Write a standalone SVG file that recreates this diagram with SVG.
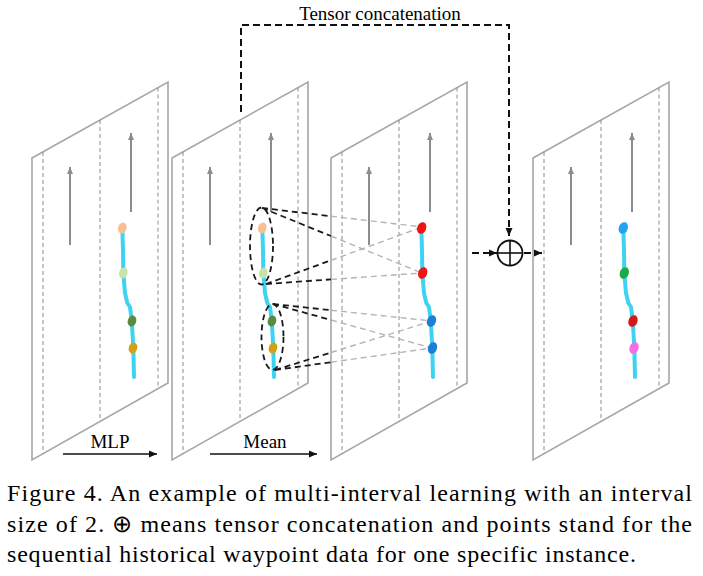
<svg xmlns="http://www.w3.org/2000/svg" xmlns:xlink="http://www.w3.org/1999/xlink" width="703" height="576" viewBox="0 0 703 576">
<style>
.frame{fill:#ffffff;stroke:#a6a6a6;stroke-width:1.6}
.lane{stroke:#8c8c8c;stroke-width:1;stroke-dasharray:4 3;fill:none}
.garrow{stroke:#8c8c8c;stroke-width:2;fill:none}
.traj{stroke:#3fd3f3;stroke-width:4;fill:none;stroke-linecap:round;stroke-linejoin:round}
.bd{stroke:#1a1a1a;stroke-width:1.8;stroke-dasharray:6 4;fill:none}
.gd{stroke:#b4b4b4;stroke-width:1.4;stroke-dasharray:6 4;fill:none}
.topd{stroke:#111;stroke-width:2;stroke-dasharray:7 4;fill:none}
.solid{stroke:#111;stroke-width:1.5;fill:none}
text{font-family:'Liberation Serif',Tinos,'Times New Roman',Times,serif}
.lbl{font-size:19px;fill:#000}
.cap{font-size:24px;fill:#000}
</style>
<defs>
<marker id="ga" markerUnits="userSpaceOnUse" markerWidth="8" markerHeight="8" refX="7" refY="4" orient="auto"><path d="M0,1 L7,4 L0,7 Z" fill="#8c8c8c"/></marker>
<marker id="ba" markerUnits="userSpaceOnUse" markerWidth="9" markerHeight="8" refX="8" refY="4" orient="auto"><path d="M0,0.5 L8,4 L0,7.5 Z" fill="#111"/></marker>
<g id="panelBase">
<polygon class="frame" points="32,158 168,82 168,383 32,460"/>
<line class="lane" x1="43" y1="152" x2="43" y2="454"/>
<line class="lane" x1="100" y1="120" x2="100" y2="421.5"/>
<line class="lane" x1="158" y1="87.6" x2="158" y2="388.7"/>
<line class="garrow" x1="70" y1="245" x2="70" y2="167" marker-end="url(#ga)"/>
<line class="garrow" x1="131" y1="212" x2="131" y2="133" marker-end="url(#ga)"/>
<path class="traj" d="M122.3,227 L123,250 L123.3,273 L125,293 L127.3,303 L130,307 L131.7,320 L133.3,347 L134,377"/>
</g>
</defs>

<g id="panel1">
<use xlink:href="#panelBase"/>
<ellipse cx="122.3" cy="228" rx="4.2" ry="5.5" transform="rotate(20 122.3 228)" fill="#f6c093"/>
<ellipse cx="123.3" cy="273" rx="4.2" ry="5.5" transform="rotate(20 123.3 273)" fill="#c3e6a8"/>
<ellipse cx="132" cy="321" rx="4.2" ry="5.5" transform="rotate(20 132 321)" fill="#5b8a42"/>
<ellipse cx="133" cy="348" rx="4.2" ry="5.5" transform="rotate(20 133 348)" fill="#d4a016"/>
</g>

<g id="panel2">
<use xlink:href="#panelBase" transform="translate(140,0)"/>
<ellipse cx="262.3" cy="228" rx="4.2" ry="5.5" transform="rotate(20 262.3 228)" fill="#f6c093"/>
<ellipse cx="263.3" cy="273" rx="4.2" ry="5.5" transform="rotate(20 263.3 273)" fill="#c3e6a8"/>
<ellipse cx="272" cy="321" rx="4.2" ry="5.5" transform="rotate(20 272 321)" fill="#5b8a42"/>
<ellipse cx="273" cy="348" rx="4.2" ry="5.5" transform="rotate(20 273 348)" fill="#d4a016"/>
<ellipse class="bd" cx="261.5" cy="246" rx="11.5" ry="38.5" stroke-dasharray="5 3" stroke-width="1.5"/>
<ellipse class="bd" cx="272.5" cy="337" rx="11" ry="33" stroke-dasharray="5 3" stroke-width="1.5"/>
</g>

<g id="panel3">
<use xlink:href="#panelBase" transform="translate(299,0)"/>
</g>

<g id="panel4">
<use xlink:href="#panelBase" transform="translate(501,0)"/>
</g>

<g id="connectors">
<path class="topd" d="M241,112 V25 H509 V236" marker-end="url(#ba)"/>
<path class="topd" d="M472,253 H497" stroke-dasharray="6 4" marker-end="url(#ba)"/>
<path class="topd" d="M524,253 H542" stroke-dasharray="6 3" marker-end="url(#ba)"/>
<line class="solid" x1="63" y1="454" x2="157" y2="454" marker-end="url(#ba)"/>
<line class="solid" x1="210" y1="454" x2="317" y2="454" marker-end="url(#ba)"/>
<path class="bd" d="M262,208 L331,216.2 M262,208 L331,236 M266,284 L331,260.3 M266,284 L331,279.4 M273,304 L331,310.2 M273,304 L331,320 M275,370 L331,352.5 M275,370 L331,362.2"/>
<path class="gd" d="M331,216.2 L419,226.6 M331,236 L419,271.8 M331,260.3 L419,228.1 M331,279.4 L419,273.2 M331,310.2 L429,320.7 M331,320 L429,347.2 M331,352.5 L429,321.9 M331,362.2 L429,348.4"/>
</g>

<g id="panel3dots">
<ellipse cx="421.7" cy="228" rx="4.5" ry="6" transform="rotate(20 421.7 228)" fill="#ee1414"/>
<ellipse cx="422.7" cy="273" rx="4.5" ry="6" transform="rotate(20 422.7 273)" fill="#ee1414"/>
<ellipse cx="431.5" cy="321" rx="4.5" ry="6" transform="rotate(20 431.5 321)" fill="#1c7fd6"/>
<ellipse cx="432.5" cy="348" rx="4.5" ry="6" transform="rotate(20 432.5 348)" fill="#1c7fd6"/>
</g>

<g id="panel4dots">
<ellipse cx="623.3" cy="228" rx="4.5" ry="6" transform="rotate(20 623.3 228)" fill="#22a2f2"/>
<ellipse cx="624.3" cy="273" rx="4.5" ry="6" transform="rotate(20 624.3 273)" fill="#1eaa48"/>
<ellipse cx="633" cy="321" rx="4.5" ry="6" transform="rotate(20 633 321)" fill="#d21818"/>
<ellipse cx="634" cy="348" rx="4.5" ry="6" transform="rotate(20 634 348)" fill="#f46ee4"/>
</g>

<g id="concat">
<circle cx="510" cy="253" r="12.5" fill="#fff" stroke="#111" stroke-width="1.8"/>
<line x1="497.5" y1="253" x2="522.5" y2="253" stroke="#111" stroke-width="1.6"/>
<line x1="510" y1="240.5" x2="510" y2="265.5" stroke="#111" stroke-width="1.6"/>
</g>

<g id="labels">
<text class="lbl" x="380" y="20" text-anchor="middle" font-family="Liberation Serif">Tensor concatenation</text>
<text class="lbl" x="110" y="448" text-anchor="middle" font-family="Liberation Serif">MLP</text>
<text class="lbl" x="265" y="448" text-anchor="middle" font-family="Liberation Serif">Mean</text>
</g>

<g id="caption">
<text class="cap" x="7" y="501" textLength="685" lengthAdjust="spacing" font-family="Liberation Serif">Figure 4. An example of multi-interval learning with an interval</text>
<text class="cap" x="7" y="532" textLength="685" lengthAdjust="spacing" font-family="Liberation Serif">size of 2. ⊕ means tensor concatenation and points stand for the</text>
<text class="cap" x="7" y="562" textLength="629" lengthAdjust="spacing" font-family="Liberation Serif">sequential historical waypoint data for one specific instance.</text>
</g>
</svg>
